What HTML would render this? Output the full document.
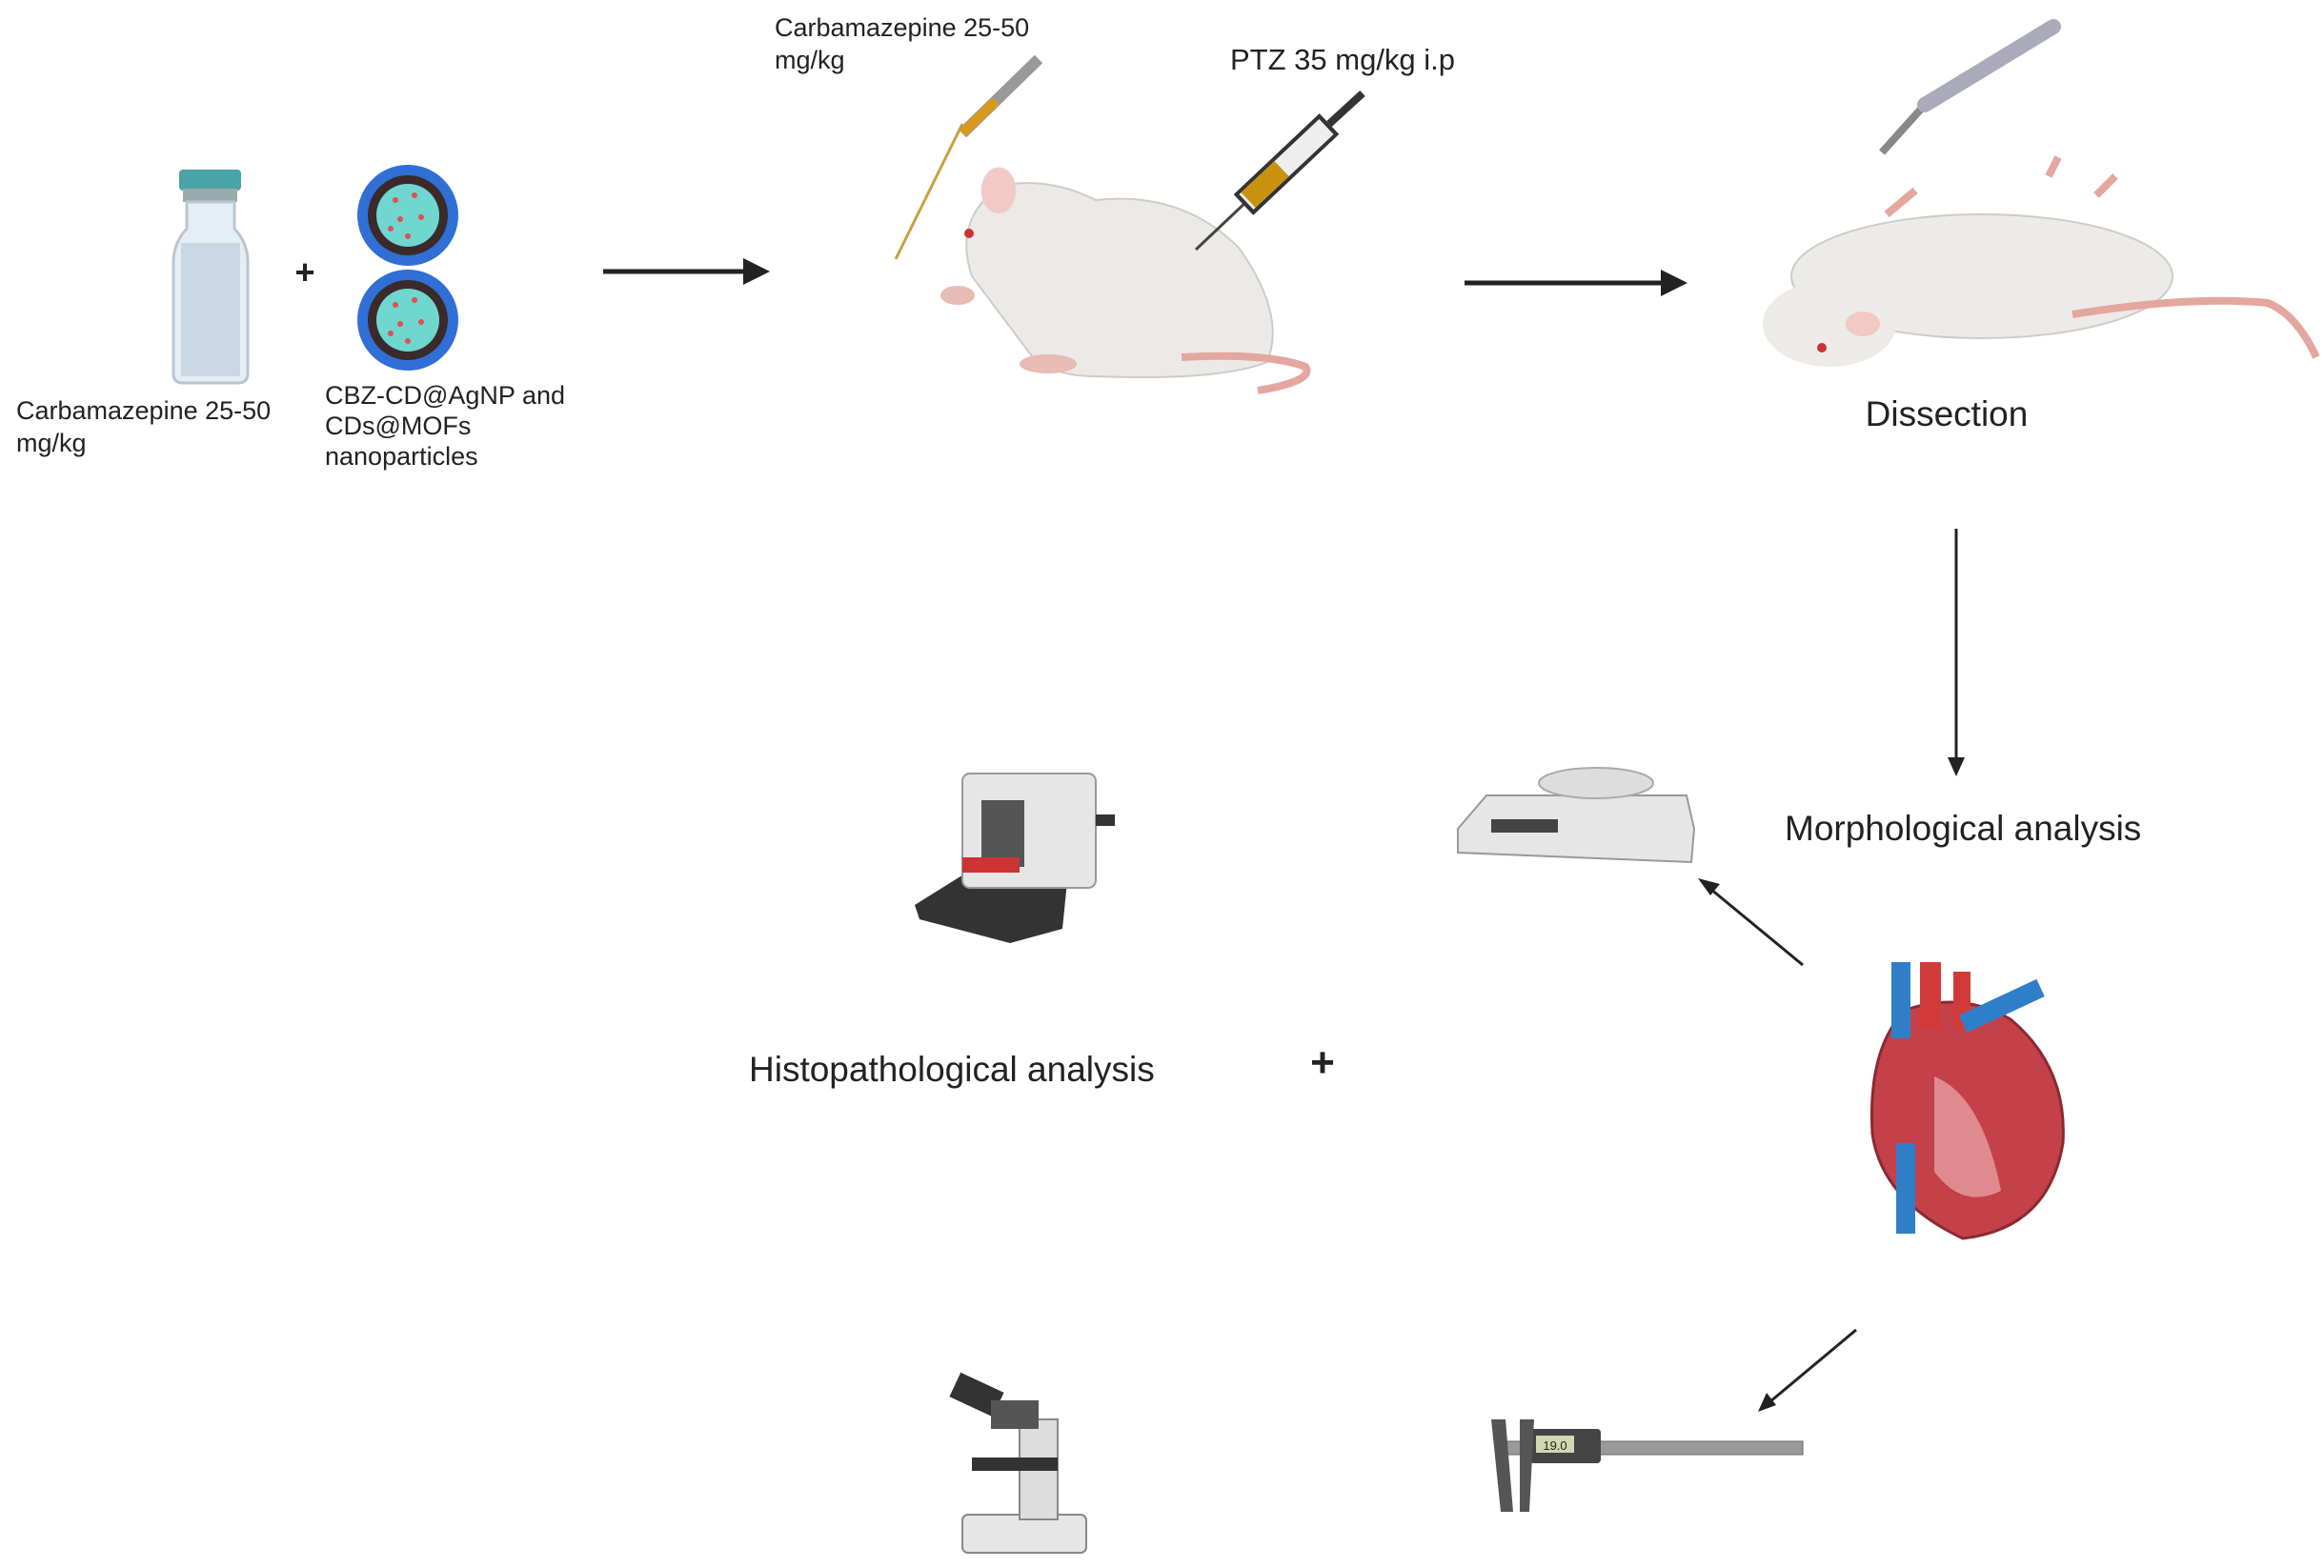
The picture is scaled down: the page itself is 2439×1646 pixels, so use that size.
<!DOCTYPE html>
<html><head><meta charset="utf-8"><style>
html,body{margin:0;padding:0;background:#fff;}
svg{display:block;}
text{font-family:"Liberation Sans",sans-serif;fill:#222;}
</style></head><body>
<svg width="2439" height="1646" viewBox="0 0 2439 1646" xmlns="http://www.w3.org/2000/svg">
<!-- vial -->
<rect x="188" y="178" width="65" height="22" rx="4" fill="#4aa3a8"/>
<rect x="192" y="198" width="57" height="14" fill="#9aa"/>
<path d="M196 212 L196 240 Q182 255 182 275 L182 392 Q182 402 192 402 L250 402 Q260 402 260 392 L260 275 Q260 255 246 240 L246 212 Z" fill="#e6eef5" stroke="#b8c6d2" stroke-width="3"/>
<rect x="190" y="255" width="62" height="140" fill="#c9d7e6"/>
<text x="320" y="298" font-size="36" font-weight="bold" text-anchor="middle">+</text>
<!-- nanoparticles -->
<g>
<circle cx="428" cy="226" r="53" fill="#2f6fd6"/><circle cx="428" cy="226" r="42" fill="#3a2a2a"/><circle cx="428" cy="226" r="33" fill="#6fd6d0"/>
<circle cx="428" cy="336" r="53" fill="#2f6fd6"/><circle cx="428" cy="336" r="42" fill="#3a2a2a"/><circle cx="428" cy="336" r="33" fill="#6fd6d0"/>
<g fill="#e05050">
<circle cx="415" cy="210" r="3"/><circle cx="435" cy="205" r="3"/><circle cx="420" cy="230" r="3"/><circle cx="442" cy="228" r="3"/><circle cx="428" cy="248" r="3"/><circle cx="410" cy="240" r="3"/>
<circle cx="415" cy="320" r="3"/><circle cx="435" cy="315" r="3"/><circle cx="420" cy="340" r="3"/><circle cx="442" cy="338" r="3"/><circle cx="428" cy="358" r="3"/><circle cx="410" cy="350" r="3"/>
</g>
</g>
<text font-size="27"><tspan x="17" y="440">Carbamazepine 25-50</tspan><tspan x="17" y="474">mg/kg</tspan></text>
<text font-size="27"><tspan x="341" y="424">CBZ-CD@AgNP and</tspan><tspan x="341" y="456">CDs@MOFs</tspan><tspan x="341" y="488">nanoparticles</tspan></text>
<line x1="633" y1="285" x2="785" y2="285" stroke="#222" stroke-width="5"/>
<polygon points="808,285 780,271 780,299" fill="#222"/>
<text font-size="27"><tspan x="813" y="38">Carbamazepine 25-50</tspan><tspan x="813" y="72">mg/kg</tspan></text>
<text x="1291" y="73" font-size="31">PTZ 35 mg/kg i.p</text>
<line x1="940" y1="272" x2="1010" y2="130" stroke="#c9a040" stroke-width="3"/>
<line x1="1010" y1="140" x2="1090" y2="62" stroke="#999" stroke-width="12"/>
<line x1="1010" y1="140" x2="1045" y2="106" stroke="#d89a1a" stroke-width="10"/>
<!-- mouse -->
<g>
<path d="M1020 290 Q1000 230 1050 195 Q1100 185 1150 210 Q1240 200 1300 260 Q1350 330 1330 380 Q1280 400 1150 395 Q1100 395 1080 370 Q1050 330 1020 290Z" fill="#eceae7" stroke="#ccc" stroke-width="2"/>
<ellipse cx="1048" cy="200" rx="18" ry="24" fill="#f2c9c4" stroke="#ddd"/>
<circle cx="1017" cy="245" r="5" fill="#c33"/>
<ellipse cx="1005" cy="310" rx="18" ry="10" fill="#e8bbb5"/>
<path d="M1240 375 Q1330 370 1370 385 Q1380 400 1320 410" stroke="#e3a7a0" stroke-width="8" fill="none"/>
<ellipse cx="1100" cy="382" rx="30" ry="10" fill="#e8bbb5"/>
</g>
<line x1="1255" y1="262" x2="1310" y2="210" stroke="#444" stroke-width="3"/>
<line x1="1305" y1="215" x2="1395" y2="130" stroke="#333" stroke-width="30"/>
<line x1="1308" y1="212" x2="1392" y2="133" stroke="#eee" stroke-width="22"/>
<line x1="1310" y1="210" x2="1345" y2="177" stroke="#c8920f" stroke-width="22"/>
<line x1="1395" y1="130" x2="1430" y2="98" stroke="#333" stroke-width="8"/>
<line x1="1537" y1="297" x2="1748" y2="297" stroke="#222" stroke-width="5"/>
<polygon points="1771,297 1743,283 1743,311" fill="#222"/>
<!-- scalpel -->
<line x1="1975" y1="160" x2="2020" y2="110" stroke="#888" stroke-width="8"/>
<line x1="2020" y1="110" x2="2155" y2="28" stroke="#aab" stroke-width="16" stroke-linecap="round"/>
<!-- dissected mouse -->
<g>
<path d="M2010 200 L1980 225 M2150 185 L2160 165 M2200 205 L2220 185" stroke="#e3a7a0" stroke-width="8"/>
<ellipse cx="2080" cy="290" rx="200" ry="65" fill="#ecebe8" stroke="#ccc" stroke-width="2"/>
<ellipse cx="1920" cy="340" rx="70" ry="45" fill="#ecebe8"/>
<ellipse cx="1955" cy="340" rx="18" ry="13" fill="#f2c9c4"/>
<circle cx="1912" cy="365" r="5" fill="#c33"/>
<path d="M2175 330 Q2300 310 2380 318 Q2410 330 2431 375" stroke="#e3a7a0" stroke-width="8" fill="none"/>
</g>
<text x="2043" y="447" font-size="37" text-anchor="middle">Dissection</text>
<line x1="2053" y1="555" x2="2053" y2="795" stroke="#222" stroke-width="3"/>
<polygon points="2053,815 2044,795 2062,795" fill="#222"/>
<text x="1873" y="882" font-size="37">Morphological analysis</text>
<!-- balance -->
<polygon points="1530,870 1560,835 1770,835 1778,870 1775,905 1530,895" fill="#e6e6e6" stroke="#999" stroke-width="2"/>
<ellipse cx="1675" cy="822" rx="60" ry="16" fill="#ddd" stroke="#aaa" stroke-width="2"/>
<rect x="1565" y="860" width="70" height="14" fill="#444"/>
<line x1="1892" y1="1013" x2="1795" y2="933" stroke="#222" stroke-width="3"/>
<polygon points="1782,922 1805,928 1795,940" fill="#222"/>
<!-- heart -->
<g>
<path d="M2000 1060 Q1960 1100 1965 1190 Q1975 1260 2060 1300 Q2150 1290 2165 1200 Q2170 1120 2110 1070 Q2060 1040 2000 1060Z" fill="#c4414a" stroke="#8a2a30" stroke-width="3"/>
<rect x="1985" y="1010" width="20" height="80" fill="#2f7fc8"/>
<rect x="2015" y="1010" width="22" height="70" fill="#d23a3a"/>
<rect x="2050" y="1020" width="18" height="60" fill="#d23a3a"/>
<rect x="2060" y="1065" width="90" height="20" fill="#2f7fc8" transform="rotate(-25 2060 1075)"/>
<rect x="1990" y="1200" width="20" height="95" fill="#2f7fc8"/>
<path d="M2030 1130 Q2080 1150 2100 1250 Q2060 1270 2030 1230Z" fill="#e08a8f"/>
</g>
<line x1="1948" y1="1396" x2="1857" y2="1472" stroke="#222" stroke-width="3"/>
<polygon points="1845,1482 1854,1462 1864,1475" fill="#222"/>
<!-- caliper -->
<rect x="1575" y="1513" width="317" height="14" fill="#999" stroke="#666"/>
<rect x="1605" y="1500" width="75" height="36" rx="4" fill="#444"/>
<rect x="1612" y="1507" width="40" height="18" fill="#cfd8b0"/>
<text x="1632" y="1522" font-size="13" text-anchor="middle">19.0</text>
<polygon points="1565,1490 1580,1490 1588,1587 1575,1587" fill="#555"/>
<polygon points="1595,1490 1610,1490 1605,1587 1595,1587" fill="#555"/>
<!-- microtome -->
<g>
<polygon points="960,950 1040,900 1120,925 1115,975 1060,990 965,965" fill="#333"/>
<rect x="1010" y="812" width="140" height="120" rx="8" fill="#e6e6e6" stroke="#999" stroke-width="2"/>
<rect x="1030" y="840" width="45" height="70" fill="#555"/>
<rect x="1010" y="900" width="60" height="16" fill="#c33"/>
<rect x="1150" y="855" width="20" height="12" fill="#333"/>
</g>
<text x="786" y="1135" font-size="37">Histopathological analysis</text>
<text x="1388" y="1130" font-size="44" font-weight="bold" text-anchor="middle">+</text>
<!-- microscope -->
<g>
<rect x="1010" y="1590" width="130" height="40" rx="6" fill="#e6e6e6" stroke="#888" stroke-width="2"/>
<rect x="1070" y="1490" width="40" height="105" fill="#ddd" stroke="#888" stroke-width="2"/>
<rect x="1020" y="1530" width="90" height="14" fill="#333"/>
<rect x="1000" y="1450" width="50" height="28" fill="#333" transform="rotate(25 1025 1464)"/>
<rect x="1040" y="1470" width="50" height="30" fill="#555"/>
</g>
</svg>
</body></html>
